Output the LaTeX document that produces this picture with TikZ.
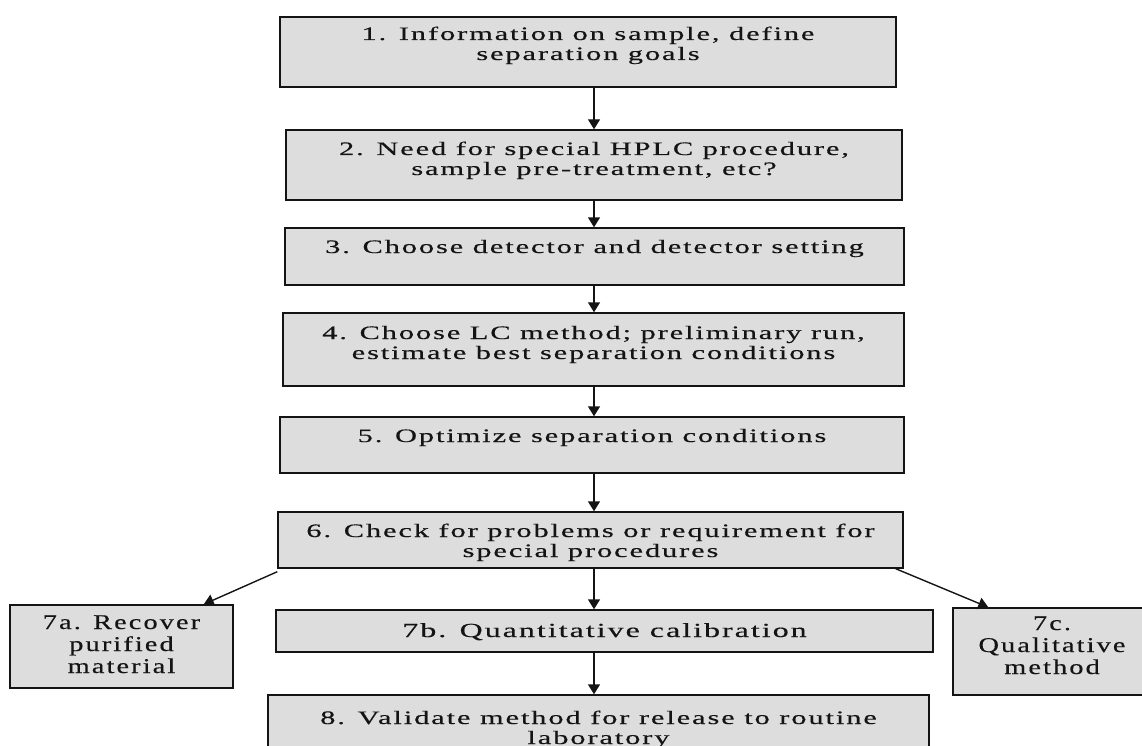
\documentclass[tikz,border=0pt]{standalone}
\usepackage{fontspec}
\setmainfont{Liberation Serif}[FakeStretch=1.6,LetterSpace=10,FakeBold=0.4]
\newfontfamily\sidefont{Liberation Serif}[FakeStretch=1.35,LetterSpace=10,FakeBold=0.4]
\usetikzlibrary{arrows.meta,calc}
\definecolor{boxgray}{RGB}{221,221,221}
\definecolor{ink}{RGB}{20,20,20}
\begin{document}
\begin{tikzpicture}[x=1pt,y=-1pt,
  box/.style={draw=ink, line width=1.4pt, fill=boxgray, inner sep=0pt},
  txt/.style={align=center, font=\fontsize{19}{20}\selectfont, text=ink, inner sep=0pt, anchor=base},
  txtb/.style={txt, font=\sidefont\fontsize{21}{22}\selectfont},
  arr/.style={line width=1.4pt, draw=ink, -{Triangle[width=12pt,length=10pt]}}]
\useasboundingbox (0,0) rectangle (1142,746);
% boxes
\node[box, minimum width=616pt, minimum height=70pt] (b1) at (588,52) {};
\node[box, minimum width=616pt, minimum height=70pt] (b2) at (594,165) {};
\node[box, minimum width=619pt, minimum height=57pt] (b3) at (594.5,256.5) {};
\node[box, minimum width=621pt, minimum height=73pt] (b4) at (593.5,349.5) {};
\node[box, minimum width=624pt, minimum height=56pt] (b5) at (592,445) {};
\node[box, minimum width=625pt, minimum height=56pt] (b6) at (590.5,540) {};
\node[box, minimum width=223pt, minimum height=83pt] (b7a) at (121.5,646.5) {};
\node[box, minimum width=657pt, minimum height=42pt] (b7b) at (604.5,631) {};
\node[box, minimum width=202pt, minimum height=87pt] (b7c) at (1054,651.5) {};
\node[box, minimum width=661pt, minimum height=65pt] (b8) at (598.5,727.5) {};
% texts (anchor = baseline of the last line)
\node[txt] (t1) at (588,60) {1. Information on sample, define\\separation goals};
\node[txt] (t2) at (594,175) {2. Need for special HPLC procedure,\\sample pre-treatment, etc?};
\node[txt] (t3) at (594.5,253) {3. Choose detector and detector setting};
\node[txt] (t4) at (593.5,359) {4. Choose LC method; preliminary run,\\estimate best separation conditions};
\node[txt] (t5) at (592,442) {5. Optimize separation conditions};
\node[txt] (t6) at (590.5,557) {6. Check for problems or requirement for\\special procedures};
\node[txtb] (t7a) at (121.5,673) {7a. Recover\\purified\\material};
\node[txt, font=\fontsize{20}{20}\selectfont] (t7b) at (604.5,637) {7b. Quantitative calibration};
\node[txtb] (t7c) at (1052,674) {7c.\\Qualitative\\method};
\node[txt] (t8) at (598.5,744) {8. Validate method for release to routine\\laboratory};
% connectors
\coordinate (ax) at (594,0);
\draw[arr] (b1.south -| ax) -- (b2.north -| ax);
\draw[arr] (b2.south -| ax) -- (b3.north -| ax);
\draw[arr] (b3.south -| ax) -- (b4.north -| ax);
\draw[arr] (b4.south -| ax) -- (b5.north -| ax);
\draw[arr] (b5.south -| ax) -- (b6.north -| ax);
\draw[arr] (b6.south -| ax) -- (b7b.north -| ax);
\draw[arr] (b7b.south -| ax) -- (b8.north -| ax);
\draw[arr] ([yshift=-3pt]b6.south west) -- ([xshift=-30pt]b7a.north east);
\draw[arr] ([xshift=-8pt]b6.south east) -- ([xshift=36pt]b7c.north west);
\end{tikzpicture}
\end{document}
